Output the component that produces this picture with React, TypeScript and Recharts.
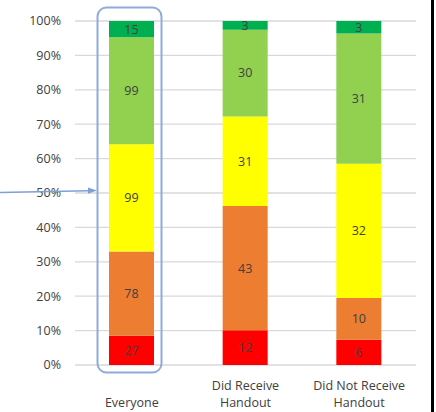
import { BarChart, Bar, XAxis, YAxis, CartesianGrid, LabelList } from "recharts";

const groups = ["Everyone", "Did Receive Handout", "Did Not Receive Handout"];
const groupLines = [["Everyone"], ["Did Receive", "Handout"], ["Did Not Receive", "Handout"]];
const red = [27, 12, 6];
const orange = [78, 43, 10];
const yellow = [99, 31, 32];
const lightGreen = [99, 30, 31];
const green = [15, 3, 3];
const yTicks = [0, 0.1, 0.2, 0.3, 0.4, 0.5, 0.6, 0.7, 0.8, 0.9, 1];

const data = groups.map((g, i) => ({
  name: g,
  red: red[i],
  orange: orange[i],
  yellow: yellow[i],
  lightGreen: lightGreen[i],
  green: green[i],
}));

const series = [
  { key: "red", color: "#FF0000" },
  { key: "orange", color: "#ED7D31" },
  { key: "yellow", color: "#FFFF00" },
  { key: "lightGreen", color: "#92D050" },
  { key: "green", color: "#00B050" },
];

const font = "Open Sans, sans-serif";

// multi-line category labels, bottom aligned like the original
function XTick({ x, y, payload }: any) {
  const idx = groups.indexOf(payload.value);
  const lines = idx >= 0 ? groupLines[idx] : [String(payload.value)];
  const n = lines.length;
  return (
    <g>
      {lines.map((l, i) => (
        <text
          key={i}
          x={x}
          y={y + 34 - (n - 1 - i) * 17}
          textAnchor="middle"
          fill="#404040"
          fontSize={12.5}
          fontFamily={font}
        >
          {l}
        </text>
      ))}
    </g>
  );
}

export default function App() {
  return (
    <div style={{ position: "absolute", left: 0, top: 0, width: 436, height: 412, background: "#fff" }}>
      <BarChart
        width={436}
        height={412}
        data={data}
        stackOffset="expand"
        margin={{ top: 21, right: 20, bottom: 7, left: 0 }}
        barSize={45}
      >
        <CartesianGrid vertical={false} stroke="#d9d9d9" strokeWidth={1.3} />
        <XAxis
          dataKey="name"
          axisLine={false}
          tickLine={false}
          height={40}
          interval={0}
          tick={<XTick />}
        />
        <YAxis
          width={75}
          domain={[0, 1]}
          ticks={yTicks}
          tickFormatter={(v: number) => `${Math.round(v * 100)}%`}
          axisLine={false}
          tickLine={false}
          tickSize={0}
          tickMargin={14}
          tick={{ fill: "#404040", fontSize: 12.5, fontFamily: font }}
        />
        {series.map((s) => (
          <Bar key={s.key} dataKey={s.key} stackId="a" fill={s.color} isAnimationActive={false}>
            <LabelList
              dataKey={s.key}
              position="center"
              fill="#404040"
              fontSize={12.5}
              fontFamily={font}
            />
          </Bar>
        ))}
      </BarChart>
      <svg
        width={436}
        height={412}
        style={{ position: "absolute", left: 0, top: 0, pointerEvents: "none" }}
      >
        <rect x={97.5} y={7.5} width={64} height={365} rx={9} fill="none" stroke="#8FAADC" strokeWidth={2} />
        <line x1={0} y1={192.5} x2={89} y2={190.8} stroke="#7F9FD8" strokeWidth={1.6} />
        <polygon points="88,187.5 97,190.6 88,193.8" fill="#7F9FD8" />
        <rect x={431} y={0} width={3} height={412} fill="#000" />
      </svg>
    </div>
  );
}
